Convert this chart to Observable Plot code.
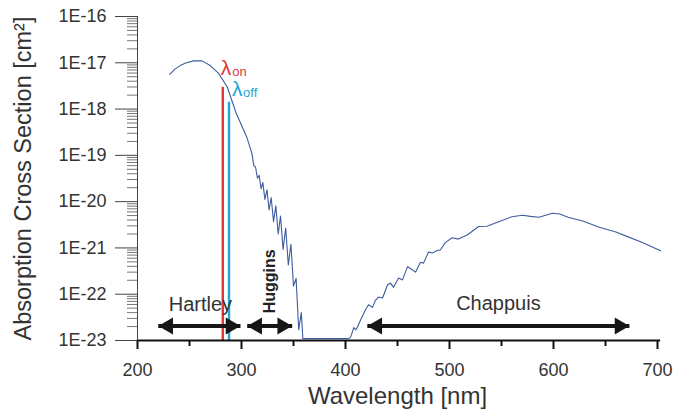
<!DOCTYPE html>
<html>
<head>
<meta charset="utf-8">
<script src="https://cdn.jsdelivr.net/npm/d3@7"></script>
<script src="https://cdn.jsdelivr.net/npm/@observablehq/plot@0.6"></script>
<style>
  html, body { margin: 0; padding: 0; background: #fff; }
  #chart { width: 684px; height: 416px; }
</style>
</head>
<body>
<div id="chart"></div>
<script>
// ---- data ----
const wavelength = [
  231, 236, 241, 247, 254, 262, 270, 278, 286.3, 295, 305, 310,
  311.8, 313.5, 315.3, 317, 318.8, 320.5, 322.5, 324.5, 326.5, 328.5, 330.8, 333,
  335.3, 337.5, 340, 342.5, 345, 347.5, 350, 352.5, 355, 357.5, 359,
  370, 385, 400, 403, 405, 408, 410, 411.5, 414.4, 419.2, 422.1, 426, 428.8,
  431.7, 435.6, 440.4, 443.3, 446.2, 451, 454.8, 459.6, 462.5, 467.3, 472.1, 475,
  479.8, 483.7, 488.5, 491, 496, 502.5, 508.5, 517, 528, 536, 546, 560, 570,
  578, 586, 599, 606, 614, 628, 644, 660, 670, 686, 703
];
const crossSection = [
  5.6e-18, 7.3e-18, 8.7e-18, 1.0e-17, 1.1e-17, 1.1e-17, 8.7e-18, 5.9e-18, 3.0e-18, 8.0e-19, 2.5e-19, 1.1e-19,
  6.0e-20, 5.6e-20, 3.2e-20, 3.7e-20, 1.9e-20, 2.6e-20, 1.12e-20, 1.8e-20, 6.6e-21, 1.23e-20, 3.7e-21, 8.1e-21,
  2.0e-21, 4.9e-21, 9.3e-22, 2.7e-21, 4.3e-22, 1.2e-21, 1.5e-22, 2.2e-22, 1.7e-23, 4.0e-23, 1.1e-23,
  1.1e-23, 1.1e-23, 1.1e-23, 1.1e-23, 1.2e-23, 1.9e-23, 1.7e-23, 1.95e-23, 2.75e-23, 4.6e-23, 5.9e-23, 5.2e-23, 7.4e-23,
  8.7e-23, 8.3e-23, 1.58e-22, 1.74e-22, 1.41e-22, 2.24e-22, 2.04e-22, 3.9e-22, 3.6e-22, 3.0e-22, 4.9e-22, 4.7e-22,
  8.1e-22, 7.8e-22, 8.9e-22, 8.9e-22, 1.3e-21, 1.66e-21, 1.55e-21, 1.9e-21, 2.9e-21, 2.95e-21, 3.6e-21, 4.7e-21, 5.1e-21,
  4.8e-21, 4.6e-21, 5.6e-21, 5.4e-21, 4.6e-21, 3.8e-21, 2.8e-21, 2.2e-21, 1.8e-21, 1.3e-21, 8.7e-22
];

// laser lines (lambda on / lambda off): wavelength and top value
const laserNames = ["on", "off"];
const laserWavelength = [282, 288];
const laserTop = [2.95e-18, 1.4e-18];

// absorption band ranges (arrows)
const bandNames = ["Hartley", "Huggins", "Chappuis"];
const bandStart = [220, 305.5, 421];
const bandEnd = [299, 348.7, 673];

const xTickLabels = [200, 300, 400, 500, 600, 700];
const xMinorTicks = [250, 350, 450, 550, 650];
const yTickLabels = ["1E-16", "1E-17", "1E-18", "1E-19", "1E-20", "1E-21", "1E-22", "1E-23"];
const yTickValues = [1e-16, 1e-17, 1e-18, 1e-19, 1e-20, 1e-21, 1e-22, 1e-23];

// ---- build tables ----
const curve = wavelength.map((w, i) => ({w, cs: crossSection[i]}));
const lasers = laserNames.map((n, i) => ({n, w: laserWavelength[i], top: laserTop[i]}));
const bands = bandNames.map((n, i) => ({n, a: bandStart[i], b: bandEnd[i]}));
const yMinor = [];
yTickValues.slice(1).forEach(d => { for (let k = 2; k <= 9; k++) yMinor.push(d * k); });
const yLabelOf = d => {
  const j = yTickValues.findIndex(v => Math.abs(Math.log10(v) - Math.log10(d)) < 1e-6);
  return j >= 0 ? yTickLabels[j] : "";
};

const arrowY = 2.05e-23;
const headR = 6.3;
const tip = 2 * Math.sqrt((Math.PI * headR * headR) / (3 * Math.sqrt(3)));

const RED = "#e2363a";
const CYAN = "#25a6d2";
const INK = "#333";
const FONT = "'Liberation Sans', Arial, Helvetica, sans-serif";

const chart = Plot.plot({
  width: 684,
  height: 416,
  marginLeft: 137,
  marginRight: 27,
  marginTop: 16,
  marginBottom: 76,
  style: {fontFamily: FONT, background: "#fff", color: INK},
  x: {domain: [200, 700]},
  y: {type: "log", domain: [1e-23, 1e-16]},
  marks: [
    // y axis
    Plot.axisY(yMinor, {tickSize: 10, tickFormat: () => "", stroke: "#777", label: null}),
    Plot.axisY(yTickValues, {
      tickSize: 22, tickPadding: 9, fontSize: 18, fill: INK, stroke: "#444", label: null,
      tickFormat: yLabelOf
    }),
    Plot.ruleX([200], {stroke: "#444", strokeWidth: 1}),
    // x axis
    Plot.axisX(xMinorTicks, {tickSize: 6, tickFormat: () => "", stroke: "#111", strokeWidth: 2, label: null}),
    Plot.axisX(xTickLabels, {
      tickSize: 9, tickPadding: 14, fontSize: 18, fill: INK, stroke: "#111", strokeWidth: 2, label: null,
      tickFormat: d => String(d)
    }),
    // laser lines
    Plot.ruleX(lasers, {x: "w", y1: 1e-23, y2: "top", stroke: (d, i) => i === 0 ? RED : CYAN, strokeWidth: 2.4}),
    // cross-section curve
    Plot.line(curve, {x: "w", y: "cs", stroke: "#3e5c9e", strokeWidth: 1.1}),
    Plot.ruleY([1e-23], {x1: 200, x2: 703, stroke: "#111", strokeWidth: 2}),
    // band arrows
    Plot.link(bands, {x1: "a", x2: "b", y1: arrowY, y2: arrowY, stroke: "#161616", strokeWidth: 4,
      insetLeft: tip - 2, insetRight: tip - 2}),
    Plot.dot(bands, {x: "a", y: () => arrowY, symbol: "triangle", r: headR, rotate: -90, dx: tip, fill: "#161616", stroke: "none"}),
    Plot.dot(bands, {x: "b", y: () => arrowY, symbol: "triangle", r: headR, rotate: 90, dx: -tip, fill: "#161616", stroke: "none"}),
    // band labels
    Plot.text(["Hartley"], {x: 260.5, y: 5.9e-23, fontSize: 20, fill: INK}),
    Plot.text(["Huggins"], {x: 327, y: 1.9e-22, fontSize: 16, fontWeight: "bold", rotate: -90, fill: "#222"}),
    Plot.text(["Chappuis"], {x: 547, y: 6.2e-23, fontSize: 20, fill: INK}),
    // lambda labels
    Plot.text(["λ"], {x: 282, y: 5.4e-18, dx: -2, textAnchor: "start", lineAnchor: "bottom", fontSize: 21, fill: RED}),
    Plot.text(["on"], {x: 282, y: 5.4e-18, dx: 9.5, dy: 1, textAnchor: "start", lineAnchor: "bottom", fontSize: 13, fill: RED}),
    Plot.text(["λ"], {x: 288, y: 1.87e-18, dx: 3, textAnchor: "start", lineAnchor: "bottom", fontSize: 21, fill: CYAN}),
    Plot.text(["off"], {x: 288, y: 1.87e-18, dx: 14, dy: 1, textAnchor: "start", lineAnchor: "bottom", fontSize: 13, fill: CYAN}),
    // axis titles
    Plot.text(["Absorption Cross Section [cm²]"], {frameAnchor: "left", textAnchor: "middle", dx: -114, dy: 0, rotate: -90, fontSize: 23.5, fill: INK}),
    Plot.text(["Wavelength [nm]"], {frameAnchor: "bottom", textAnchor: "middle", dy: 63, fontSize: 24, fill: INK})
  ]
});
document.getElementById("chart").appendChild(chart);
</script>
</body>
</html>
